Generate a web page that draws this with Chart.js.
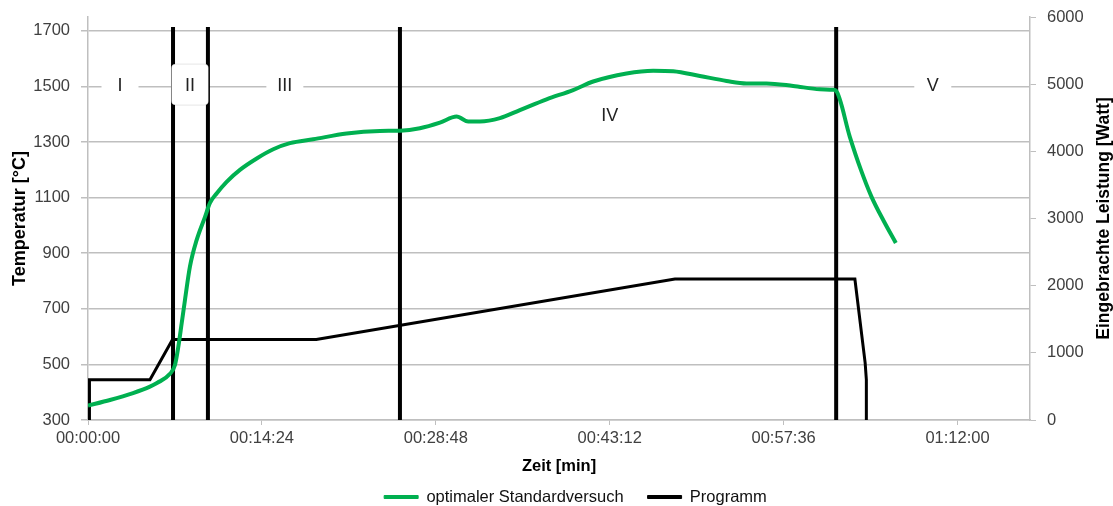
<!DOCTYPE html>
<html>
<head>
<meta charset="utf-8">
<script src="https://cdn.jsdelivr.net/npm/chart.js@4/dist/chart.umd.min.js"></script>
<style>
  html, body { margin: 0; padding: 0; background: #fff; }
  #wrap { width: 1113px; height: 506px; }
</style>
</head>
<body>
<div id="wrap"><canvas id="chart" width="1113" height="506"></canvas></div>
<script>
// Zeit in Minuten, Temperatur in °C (linke Achse)
const tempTimes = [0, 1.82, 3.73, 5.13, 5.71, 6.79, 7.2, 7.48, 7.76, 8.03, 8.44, 9.0, 9.69, 10.1, 10.65, 11.48,
  12.58, 13.97, 15.34, 16.72, 18.65, 21.42, 24.17, 25.83, 27.48, 29.14, 30.52, 31.48, 32.45, 34.11, 35.76,
  37.97, 40.17, 41.83, 44.59, 46.8, 48.46, 50.66, 52.87, 54.52, 56.18, 58.39, 60.6, 61.7, 61.95, 63.08,
  64.0, 64.88, 65.9, 66.89];
const tempValues = [352, 372, 397, 420, 433, 466, 498, 564, 649, 732, 852, 948, 1031, 1081, 1115, 1157,
  1200, 1241, 1274, 1296, 1310, 1331, 1340, 1341, 1350, 1370, 1392, 1374, 1374, 1386, 1415,
  1454, 1487, 1518, 1547, 1557, 1555, 1538, 1520, 1511, 1511, 1502, 1490, 1488, 1484, 1319,
  1200, 1103, 1015, 937];

// Programm: Leistung in Watt (rechte Achse)
const progTimes = [0, 0.12, 0.12, 5.13, 7.0, 18.9, 48.6, 63.5, 64.35, 64.45, 64.45];
const progValues = [0, 0, 600, 600, 1200, 1200, 2100, 2100, 850, 600, 0];

// Phasengrenzen (Minuten) und Phasen
const phaseTimes = [7.04, 9.93, 25.83, 61.95];
const phaseTempRange = [300, 1714];
const phaseNames = ['I', 'II', 'III', 'IV', 'V'];

const tempTicks = [300, 500, 700, 900, 1100, 1300, 1500, 1700];
const powerTicks = [0, 1000, 2000, 3000, 4000, 5000, 6000];
const timeTicks = [0, 14.4, 28.8, 43.2, 57.6, 72];

const seriesNames = ['optimaler Standardversuch', 'Programm'];
const GREEN = '#00b050';
const FONT = '"Liberation Sans", Arial, sans-serif';

const toXY = (xs, ys) => xs.map((x, i) => ({ x: x, y: ys[i] }));

function fmtTime(min) {
  const s = Math.round(min * 60);
  const pad = n => String(n).padStart(2, '0');
  return pad(Math.floor(s / 3600)) + ':' + pad(Math.floor(s / 60) % 60) + ':' + pad(s % 60);
}

const phaseDatasets = phaseTimes.map(t => ({
  label: 'phase',
  data: toXY([t, t], phaseTempRange),
  yAxisID: 'y',
  borderColor: '#000',
  borderWidth: 4,
  pointRadius: 0,
  tension: 0
}));

// Phasenbeschriftungen mit weißem Hintergrund
const phaseLabelPos = [
  { x: 2.65, y: 1505 }, { x: 8.44, y: 1505 }, { x: 16.3, y: 1505 },
  { x: 43.2, y: 1397 }, { x: 69.95, y: 1505 }
];
const phaseLabelPlugin = {
  id: 'phaseLabels',
  afterDatasetsDraw(chart) {
    const { ctx, scales } = chart;
    ctx.save();
    ctx.font = '18px ' + FONT;
    ctx.textAlign = 'center';
    ctx.textBaseline = 'middle';
    phaseNames.forEach((name, i) => {
      const px = scales.x.getPixelForValue(phaseLabelPos[i].x);
      const py = scales.y.getPixelForValue(phaseLabelPos[i].y);
      ctx.fillStyle = '#fff';
      ctx.strokeStyle = 'rgba(0,0,0,0.10)';
      ctx.lineWidth = 1;
      ctx.beginPath();
      ctx.roundRect(px - 18.5, py - 21, 37, 41, 4);
      ctx.fill();
      if (i === 1) ctx.stroke();
      ctx.fillStyle = '#222';
      ctx.fillText(name, px, py + 1);
    });
    ctx.restore();
  }
};

// rechter Achsentitel, von unten nach oben gelesen
const rightTitlePlugin = {
  id: 'rightTitle',
  afterDraw(chart) {
    const { ctx, chartArea } = chart;
    ctx.save();
    ctx.translate(1104, (chartArea.top + chartArea.bottom) / 2);
    ctx.rotate(-Math.PI / 2);
    ctx.font = 'bold 17.5px ' + FONT;
    ctx.fillStyle = '#000';
    ctx.textAlign = 'center';
    ctx.textBaseline = 'middle';
    ctx.fillText('Eingebrachte Leistung [Watt]', 0, 0);
    ctx.restore();
  }
};

// Legende etwas nach rechts wie im Original
const legendShift = {
  id: 'legendShift',
  afterUpdate(chart) {
    if (!chart.legend) return;
    chart.legend.left += 19;
    chart.legend.right += 19;
  }
};

Chart.defaults.font.family = FONT;
Chart.defaults.font.size = 16.5;
Chart.defaults.color = '#404040';

new Chart(document.getElementById('chart'), {
  type: 'line',
  data: {
    datasets: [
      {
        label: seriesNames[0],
        data: toXY(tempTimes, tempValues),
        yAxisID: 'y',
        borderColor: GREEN,
        backgroundColor: GREEN,
        borderWidth: 4,
        pointRadius: 0,
        cubicInterpolationMode: 'monotone'
      },
      {
        label: seriesNames[1],
        data: toXY(progTimes, progValues),
        yAxisID: 'y2',
        borderColor: '#000',
        backgroundColor: '#000',
        borderWidth: 3,
        pointRadius: 0,
        tension: 0
      },
      ...phaseDatasets
    ]
  },
  options: {
    responsive: false,
    animation: false,
    layout: { padding: { top: 17, left: 0, right: 0, bottom: -9.25 } },
    plugins: {
      legend: {
        position: 'bottom',
        labels: {
          color: '#111',
          boxWidth: 34,
          boxHeight: 3,
          padding: 24,
          filter: item => item.text !== 'phase',
          generateLabels(chart) {
            return Chart.defaults.plugins.legend.labels.generateLabels(chart)
              .map(l => Object.assign(l, { lineWidth: 1 }));
          }
        }
      },
      tooltip: { enabled: false }
    },
    scales: {
      x: {
        type: 'linear',
        min: 0,
        max: 78,
        afterBuildTicks: axis => { axis.ticks = timeTicks.map(v => ({ value: v })); },
        afterFit: axis => { axis.height = 44.75; },
        ticks: { callback: v => fmtTime(v), maxRotation: 0, padding: 4 },
        grid: { drawOnChartArea: false, tickLength: 5, color: '#bfbfbf' },
        border: { color: '#bfbfbf', width: 1.5 },
        title: { display: true, text: 'Zeit [min]', color: '#000', font: { weight: 'bold', size: 16.5 }, padding: { top: 0, bottom: -11.5 } }
      },
      y: {
        position: 'left',
        min: 300,
        max: 1750,
        afterBuildTicks: axis => { axis.ticks = tempTicks.map(v => ({ value: v })); },
        afterFit: axis => { axis.width = 88; axis.paddingTop = 0; },
        ticks: { padding: 11, callback: v => String(v) },
        grid: { color: '#bfbfbf', lineWidth: 1.5, tickLength: 7 },
        border: { color: '#bfbfbf', width: 1.5 },
        title: { display: true, text: 'Temperatur [°C]', color: '#000', font: { weight: 'bold', size: 18 }, padding: { top: 9 } }
      },
      y2: {
        position: 'right',
        min: 0,
        max: 6000,
        afterBuildTicks: axis => { axis.ticks = powerTicks.map(v => ({ value: v })); },
        afterFit: axis => { axis.width = 83; axis.paddingTop = 0; },
        ticks: { padding: 11, callback: v => String(v) },
        grid: { drawOnChartArea: false, tickLength: 6, color: '#bfbfbf' },
        border: { color: '#bfbfbf', width: 1.5 }
      }
    }
  },
  plugins: [phaseLabelPlugin, rightTitlePlugin, legendShift]
});
</script>
</body>
</html>
